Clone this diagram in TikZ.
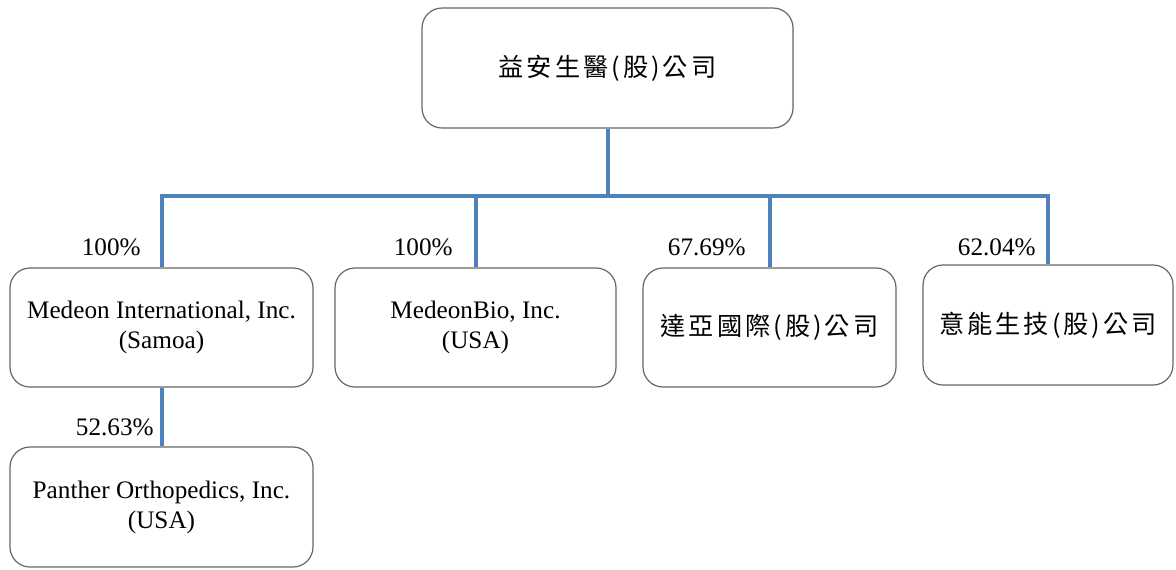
\documentclass[tikz,border=0pt]{standalone}
\usepackage{fontspec}
\setmainfont{Liberation Serif}
\newfontfamily\cjk[LetterSpace=12]{Noto Sans CJK TC}
\definecolor{linkblue}{HTML}{4F81BD}
\definecolor{boxgray}{gray}{0.40}
\usetikzlibrary{positioning}

\begin{document}
\begin{tikzpicture}[x=0.5pt, y=-0.5pt,
	company/.style={draw=boxgray, line width=0.6pt, rounded corners=10pt, align=center, inner sep=0pt, font=\fontsize{12.6}{15}\selectfont},
	link/.style={draw=linkblue, line width=2pt},
	share/.style={anchor=east, inner sep=0pt, font=\fontsize{12.6}{15}\selectfont}]

\newcommand{\pix}[1]{#1*0.5pt}

\useasboundingbox (0,0) rectangle (1176,569); % page size

% companies
\node[company, minimum width=\pix{371}, minimum height=\pix{120}] (parent) at (607.5,68) {\cjk 益安生醫(股)公司};
\node[company, minimum width=\pix{303}, minimum height=\pix{119}] (samoa) at (161.5,327.5) {Medeon International, Inc.\\(Samoa)};
\node[company, minimum width=\pix{281}, minimum height=\pix{119}] (bio) at (475.5,327.5) {MedeonBio, Inc.\\(USA)};
\node[company, minimum width=\pix{253}, minimum height=\pix{119}] (daya) at (769.5,327.5) {\cjk 達亞國際(股)公司};
\node[company, minimum width=\pix{250}, minimum height=\pix{120}] (yineng) at (1048,325) {\cjk 意能生技(股)公司};
\node[company, minimum width=\pix{303}, minimum height=\pix{120}] (panther) at (161.5,507) {Panther Orthopedics, Inc.\\(USA)};

% links
\coordinate (hub) at (607.5,196);
\foreach \sub in {samoa, bio, daya, yineng} {
	\draw[link] (parent.south) -- (hub) -| (\sub.north); % share line
}
\draw[link] (samoa.south) -- (panther.north);

% shares
\node[share] (s samoa)   at (141,247)  {100\%};
\node[share] (s bio)     at (453,247)  {100\%};
\node[share] (s daya)    at (746,247)  {67.69\%};
\node[share] (s yineng)  at (1036,247) {62.04\%};
\node[share] (s panther) at (154,427)  {52.63\%};

\end{tikzpicture}
\end{document}
